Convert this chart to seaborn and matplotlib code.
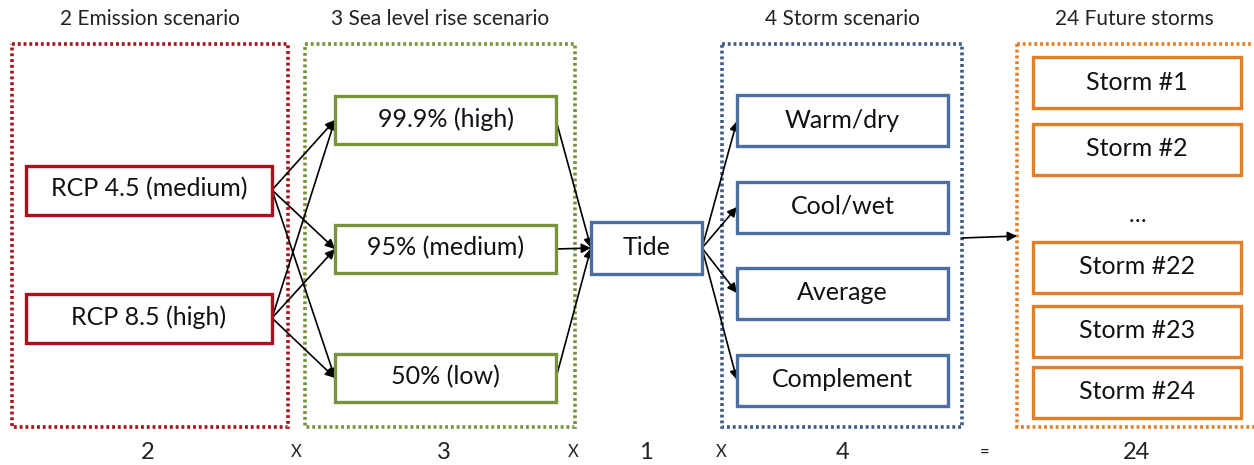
import numpy as np
import matplotlib
matplotlib.use("Agg")
import matplotlib.pyplot as plt
from matplotlib.patches import Rectangle, FancyArrowPatch
import seaborn as sns

# labels of the diagram
group_titles = ["2 Emission scenario", "3 Sea level rise scenario", "4 Storm scenario", "24 Future storms"]
emission = ["RCP 4.5 (medium)", "RCP 8.5 (high)"]
sea_level = ["99.9% (high)", "95% (medium)", "50% (low)"]
tide = ["Tide"]
storm_scen = ["Warm/dry", "Cool/wet", "Average", "Complement"]
future = ["Storm #1", "Storm #2", "...", "Storm #22", "Storm #23", "Storm #24"]
bottom_text = ["2", "X", "3", "X", "1", "X", "4", "=", "24"]

sns.set_theme(style="white")
plt.rcParams["font.family"] = ["Lato", "DejaVu Sans"]

RED = "#A8121C"
GREEN = "#77933C"
BLUE = "#4A6FA0"
DBLUE = "#3E5A82"
ORANGE = "#E2802A"

fig = plt.figure(figsize=(12.54, 4.65), dpi=100)
ax = fig.add_axes([0, 0, 1, 1])
ax.set_xlim(0, 1254)
ax.set_ylim(465, 0)
ax.axis("off")

# dotted group frames (x0, x1)
groups = [(12, 288, RED), (305, 575, GREEN), (722, 962, DBLUE), (1017, 1262, ORANGE)]
for (x0, x1, c), t in zip(groups, group_titles):
    ax.add_patch(Rectangle((x0, 44), x1 - x0, 383, fill=False, ec=c, lw=2.6,
                           ls=(0, (0.8, 0.8))))
    ax.text((x0 + x1) / 2 if x1 < 1254 else 1134, 19, t, ha="center", va="center",
            fontsize=15, color="#222222")


def box(x0, x1, yc, h, label, color):
    ax.add_patch(Rectangle((x0, yc - h / 2), x1 - x0, h, fill=True, fc="white",
                           ec=color, lw=2.4, zorder=3))
    ax.text((x0 + x1) / 2, yc - 1, label, ha="center", va="center", fontsize=18,
            color="#111111", zorder=4)


def arrow(p, q):
    ax.add_patch(FancyArrowPatch(p, q, arrowstyle="-|>", mutation_scale=14,
                                 lw=1.2, color="black", shrinkA=0, shrinkB=0, zorder=2))


em_y = [190, 318]
sl_y = [120, 249, 378]
tide_y = 248
st_y = [121, 207, 293, 380]
fu_y = [83, 149, 217, 267, 331, 392]

for y, lab in zip(em_y, emission):
    box(26, 272, y, 49, lab, RED)
for y, lab in zip(sl_y, sea_level):
    box(335, 556, y, 48, lab, GREEN)
box(591, 702, tide_y, 52, tide[0], BLUE)
for y, lab in zip(st_y, storm_scen):
    box(737, 948, y, 51, lab, BLUE)
for y, lab in zip(fu_y, future):
    if lab == "...":
        ax.text(1137, y - 2, "\u2026", ha="center", va="center", fontsize=17, color="#111111")
    else:
        box(1033, 1241, y, 51, lab, ORANGE)

for ye in em_y:
    for ys in sl_y:
        arrow((272, ye), (335, ys))
for ys in sl_y:
    arrow((556, ys), (591, tide_y))
for yt in st_y:
    arrow((702, tide_y), (737, yt))
arrow((962, 238), (1017, 236))

bottom_x = [148, 296, 444, 573, 646, 721, 843, 985, 1137]
for x, t in zip(bottom_x, bottom_text):
    small = t in ("X", "=")
    ax.text(x, 452, t, ha="center", va="center", fontsize=12 if small else 17,
            color="#222222")

fig.savefig("out.png", dpi=100, facecolor="white")
